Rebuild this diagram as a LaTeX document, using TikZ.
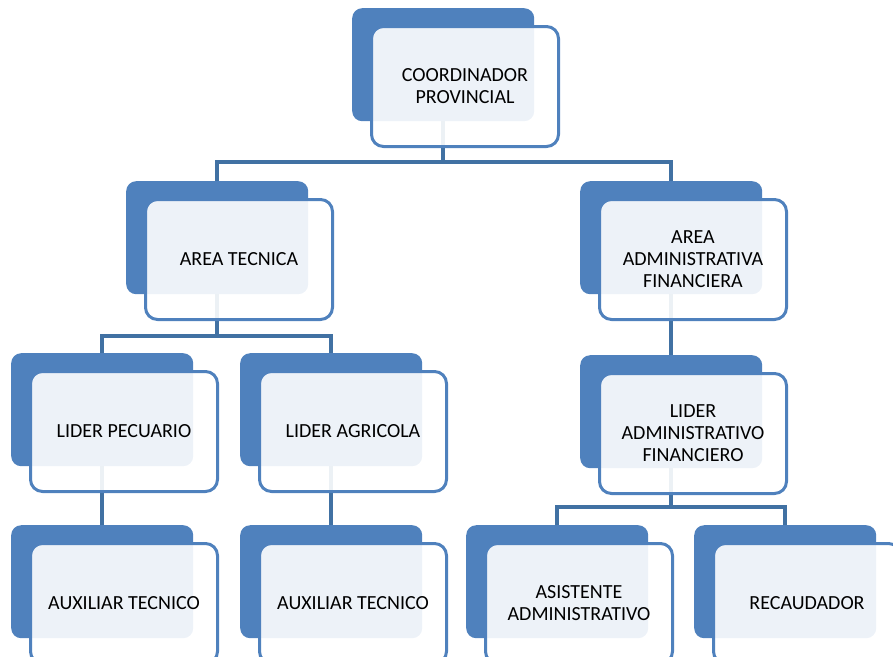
\documentclass[tikz,border=0pt]{standalone}
\usepackage{fontspec}
\setmainfont{Carlito}
\definecolor{accent}{RGB}{79,129,189}
\definecolor{connc}{RGB}{65,113,163}
\begin{document}
\begin{tikzpicture}[x=1pt,y=-1pt,
  backbox/.style={fill=accent, rounded corners=10pt, minimum width=182pt, minimum height=113pt, anchor=north west, inner sep=0pt},
  frontbox/.style={draw=accent, line width=3pt, fill=white, fill opacity=0.9, text opacity=1, rounded corners=12pt, minimum width=187pt, minimum height=120pt, anchor=north west, align=center, font=\fontsize{20}{22}\selectfont, inner sep=0pt},
  conn/.style={draw=connc, line width=4pt}]
\useasboundingbox (0,0) rectangle (893,656);
\clip (0,0) rectangle (893,656);
% back boxes
\node[backbox] (topb) at (352,8) {};
\node[backbox] (atb) at (126,181) {};
\node[backbox] (aafb) at (580,181) {};
\node[backbox] (lpb) at (11,353) {};
\node[backbox] (lab) at (240,353) {};
\node[backbox] (lafb) at (580,355) {};
\node[backbox] (ax1b) at (11,525) {};
\node[backbox] (ax2b) at (240,525) {};
\node[backbox] (asb) at (466,525) {};
\node[backbox] (recb) at (694,525) {};
% bus levels
\coordinate (bus1) at (0,162);
\coordinate (bus2) at (0,336);
\coordinate (bus3) at (0,507);
% connectors
\draw[conn] (topb.south) -- (topb.south |- bus1);
\draw[conn] (atb.north) |- (aafb.north |- bus1) -- (aafb.north);
\draw[conn] (atb.south) -- (atb.south |- bus2);
\draw[conn] (lpb.north) |- (lab.north |- bus2) -- (lab.north);
\draw[conn] (aafb.south) -- (lafb.north);
\draw[conn] (lpb.south) -- (ax1b.north);
\draw[conn] (lab.south) -- (ax2b.north);
\draw[conn] (lafb.south) -- (lafb.south |- bus3);
\draw[conn] (asb.north) |- (recb.north |- bus3) -- (recb.north);
% front boxes
\node[frontbox] (top) at ([shift={(18,17)}]topb.north west) {COORDINADOR\\PROVINCIAL};
\node[frontbox] (at) at ([shift={(18,17)}]atb.north west) {AREA TECNICA};
\node[frontbox] (aaf) at ([shift={(18,17)}]aafb.north west) {AREA\\ADMINISTRATIVA\\FINANCIERA};
\node[frontbox] (lp) at ([shift={(18,17)}]lpb.north west) {LIDER PECUARIO};
\node[frontbox] (la) at ([shift={(18,17)}]lab.north west) {LIDER AGRICOLA};
\node[frontbox] (laf) at ([shift={(18,17)}]lafb.north west) {LIDER\\ADMINISTRATIVO\\FINANCIERO};
\node[frontbox] (ax1) at ([shift={(18,17)}]ax1b.north west) {AUXILIAR TECNICO};
\node[frontbox] (ax2) at ([shift={(18,17)}]ax2b.north west) {AUXILIAR TECNICO};
\node[frontbox] (as) at ([shift={(18,17)}]asb.north west) {ASISTENTE\\ADMINISTRATIVO};
\node[frontbox] (rec) at ([shift={(18,17)}]recb.north west) {RECAUDADOR};
\end{tikzpicture}
\end{document}
